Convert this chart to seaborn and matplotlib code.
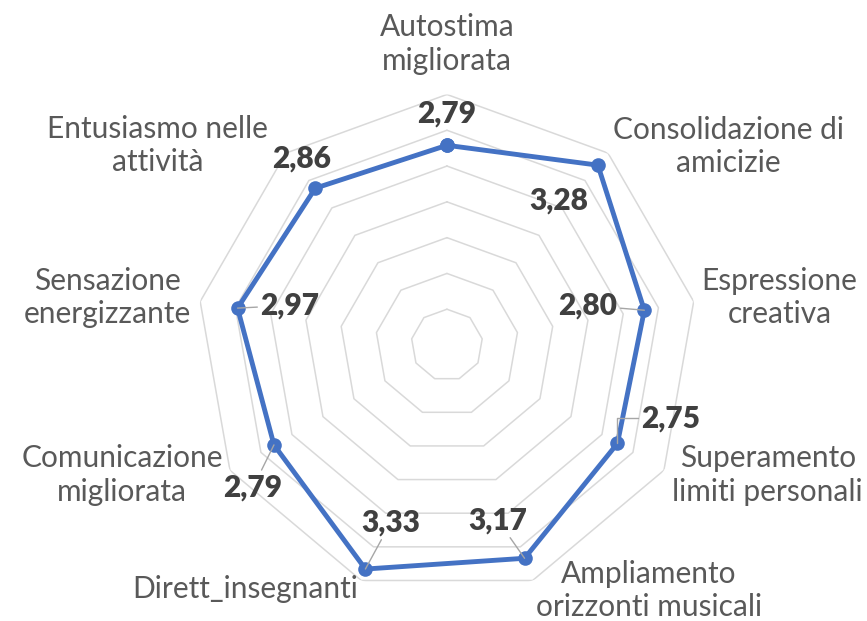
import matplotlib.pyplot as plt
import numpy as np
import pandas as pd
import seaborn as sns

# dati del grafico radar
categorie = ['Autostima\nmigliorata', 'Consolidazione di\namicizie', 'Espressione\ncreativa',
             'Superamento\nlimiti personali', 'Ampliamento\norizzonti musicali', 'Dirett_insegnanti',
             'Comunicazione\nmigliorata', 'Sensazione\nenergizzante', 'Entusiasmo nelle\nattività']
valori = [2.79, 3.28, 2.80, 2.75, 3.17, 3.33, 2.79, 2.97, 2.86]
anelli = [0.5, 1.0, 1.5, 2.0, 2.5, 3.0, 3.5]

sns.set_style('white')
plt.rcParams['font.family'] = ['Lato', 'DejaVu Sans']

n = len(categorie)
angoli = np.linspace(0, 2 * np.pi, n, endpoint=False)
chiuso = np.append(angoli, 2 * np.pi)
df = pd.DataFrame({'angolo': chiuso, 'valore': valori + valori[:1]})

fig = plt.figure(figsize=(8.67, 6.21), dpi=100)
ax = fig.add_axes([0.2265, 0.0409, 0.578, 0.807], projection='polar')
ax.set_theta_zero_location('N')
ax.set_theta_direction(-1)

# griglia poligonale (come in Excel)
for r in anelli:
    ax.plot(chiuso, [r] * (n + 1), color='#d9d9d9', lw=1.1, zorder=1)

sns.lineplot(data=df, x='angolo', y='valore', sort=False, estimator=None, ax=ax,
             color='#4472c4', lw=3.5, marker='o', markersize=10.5,
             markeredgewidth=0, zorder=3)

ax.set_ylim(0, 3.5)
ax.set_xticks([])
ax.set_yticks([])
ax.set_xlabel('')
ax.set_ylabel('')
ax.grid(False)
ax.spines['polar'].set_visible(False)

# etichette delle categorie (posizioni in frazione degli assi)
pos_cat = [(0.5, 1.100), (1.061, 0.896), (1.164, 0.595), (1.140, 0.240), (0.903, 0.010),
           (0.097, 0.014), (-0.148, 0.240), (-0.178, 0.595), (-0.078, 0.898)]
for testo, (x, y) in zip(categorie, pos_cat):
    ax.text(x, y, testo, transform=ax.transAxes, ha='center', va='center',
            multialignment='center', fontsize=21.5, color='#595959', linespacing=1.25)

# etichette dei valori, alcune con linea guida
pos_val = [(0.5, 0.962), (0.723, 0.789), (0.781, 0.579), (0.947, 0.354), (0.602, 0.150),
           (0.388, 0.146), (0.113, 0.216), (0.187, 0.579), (0.21, 0.872)]
guida = [False, False, True, True, True, True, True, True, False]
for ang, v, (x, y), g in zip(angoli, valori, pos_val, guida):
    testo = f'{v:.2f}'.replace('.', ',')
    frecce = None
    if g:
        stile = 'angle,angleA=0,angleB=90,rad=0' if v == 2.75 else 'arc3'
        frecce = dict(arrowstyle='-', color='#a6a6a6', lw=1, shrinkA=0, shrinkB=0,
                      connectionstyle=stile)
    ax.annotate(testo, xy=(ang, v), xycoords='data', xytext=(x, y),
                textcoords='axes fraction', ha='center', va='center',
                fontsize=21.5, fontweight='heavy', color='#404040',
                arrowprops=frecce, zorder=4)

fig.savefig('out.png', dpi=100)
